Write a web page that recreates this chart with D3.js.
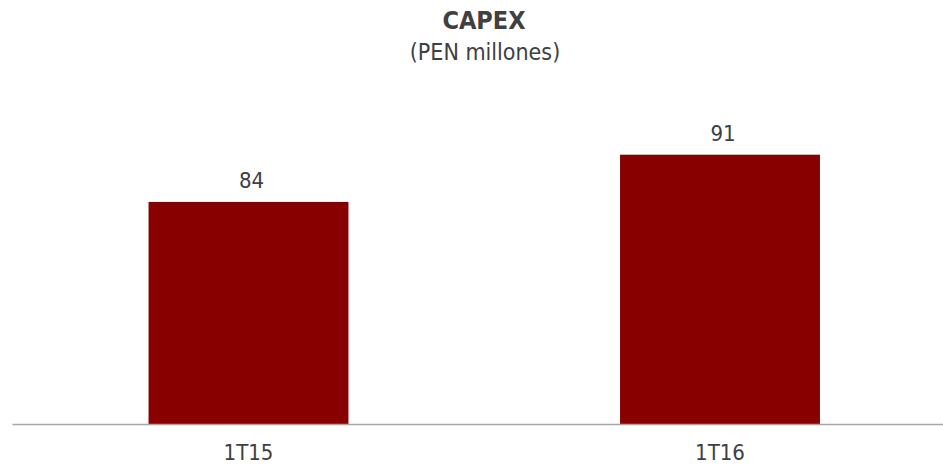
<!DOCTYPE html>
<html>
<head>
<meta charset="utf-8">
<script src="https://cdn.jsdelivr.net/npm/d3@7/dist/d3.min.js"></script>
<style>
  body { margin: 0; background: #fff; }
  text { font-family: "DejaVu Sans Condensed", "DejaVu Sans", sans-serif; fill: #404040; }
</style>
</head>
<body>
<svg id="chart" width="943" height="466"></svg>
<script>
// data
const periods = ["1T15", "1T16"];
const capex = [84, 91];

const width = 943, height = 466;
const svg = d3.select("#chart");

const x = d3.scaleBand()
    .domain(periods)
    .range([12.75, 955.75])
    .paddingInner(0.576)
    .paddingOuter(0.288);

const y = d3.scaleLinear()
    .domain([51, 100])
    .range([424.5, 94]);

//title
svg.append("text")
    .attr("x", 484)
    .attr("y", 29)
    .attr("text-anchor", "middle")
    .style("font-size", "25px")
    .style("font-weight", "bold")
    .text("CAPEX");

svg.append("text")
    .attr("x", 485)
    .attr("y", 60)
    .attr("text-anchor", "middle")
    .style("font-size", "23px")
    .text("(PEN millones)");

//bars
svg.append("g")
    .selectAll("rect")
    .data(capex)
    .enter()
    .append("rect")
    .attr("x", (d, i) => x(periods[i]))
    .attr("y", d => y(d))
    .attr("width", x.bandwidth())
    .attr("height", d => y.range()[0] - y(d))
    .attr("fill", "#880000");

//value labels
svg.append("g")
    .selectAll("text")
    .data(capex)
    .enter()
    .append("text")
    .attr("x", (d, i) => x(periods[i]) + x.bandwidth() / 2 + 3)
    .attr("y", d => y(d) - 14)
    .attr("text-anchor", "middle")
    .style("font-size", "22px")
    .text(d => d);

//axis
const axis = svg.append("g")
    .attr("transform", "translate(0," + y.range()[0] + ")")
    .call(d3.axisBottom(x).tickSize(0).tickPadding(20));
axis.select(".domain")
    .attr("d", "M12.5,0H943")
    .attr("stroke", "#a6a6a6")
    .attr("stroke-width", 1.5);
axis.selectAll("text")
    .style("font-size", "22px")
    .style("fill", "#404040");
</script>
</body>
</html>
